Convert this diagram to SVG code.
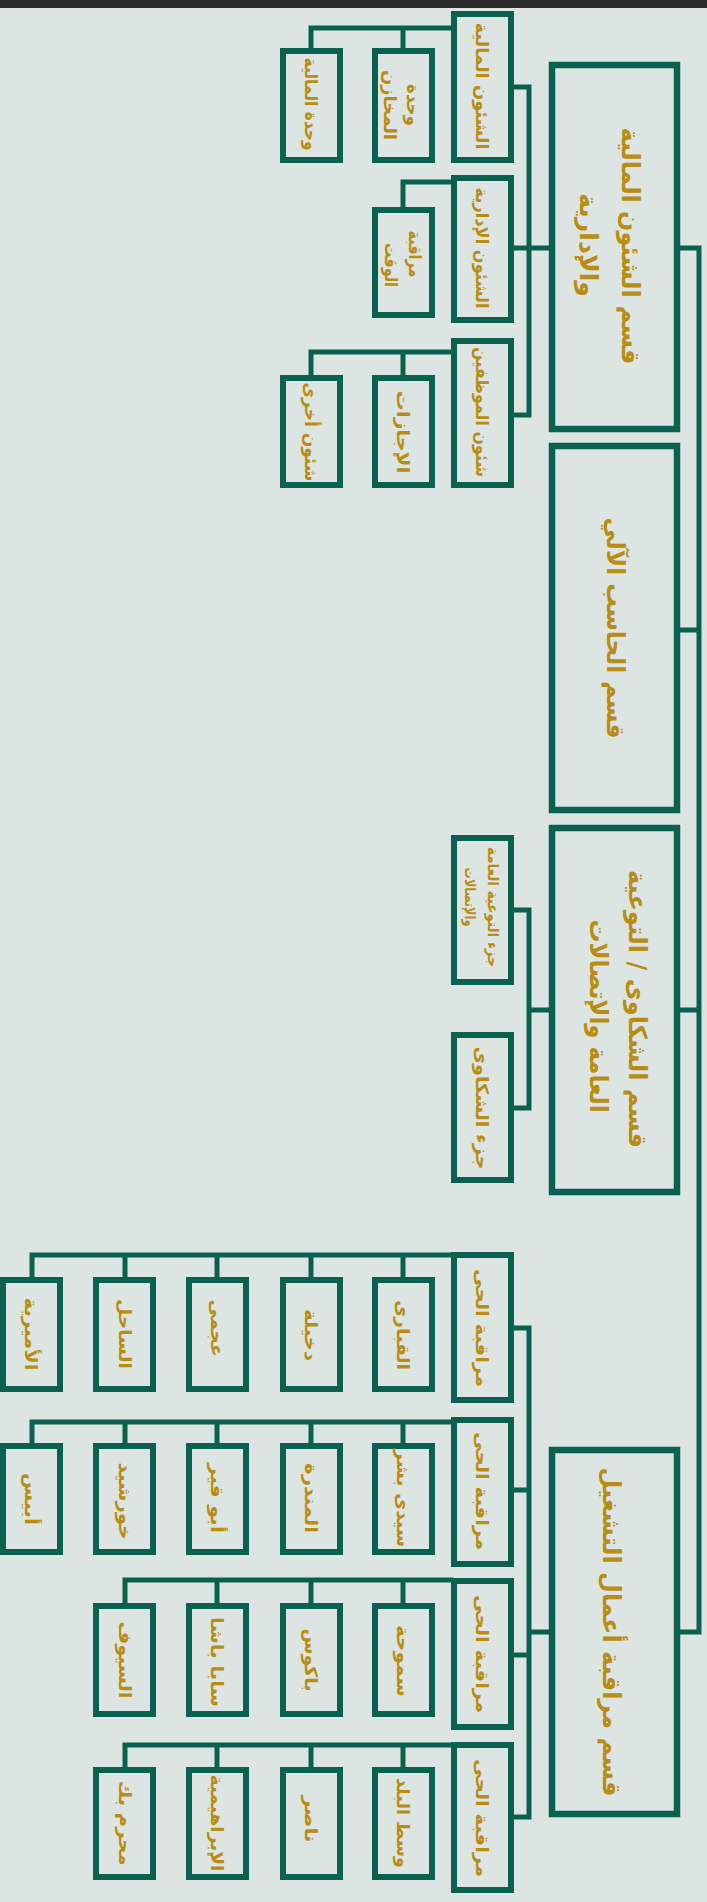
<svg xmlns="http://www.w3.org/2000/svg" width="707" height="1902" viewBox="0 0 707 1902">
<style>
.bg{fill:#dde5e2}
.big{fill:none;stroke:#0b6150;stroke-width:6.5}
.box{fill:none;stroke:#0b6150;stroke-width:6}
.ln{fill:none;stroke:#0b6150;stroke-width:5;stroke-linecap:square}
text{font-family:"DejaVu Sans",sans-serif;font-weight:bold;fill:#b98c14;text-anchor:middle;dominant-baseline:central}
.t1{font-size:25px}
.t2{font-size:17.5px}
.t3{font-size:14.5px}
</style>
<rect class="bg" x="0" y="0" width="707" height="1902"/>
<rect x="0" y="0" width="707" height="8" fill="#2b2b2b"/>

<g id="connectors">
  <path class="ln" d="M680 248 H699 V1632 H680 M680 630 H699 M680 1010 H699"/>
  <path class="ln" d="M549 248 H529 M514 87 H529 V415 H514 M514 248 H529"/>
  <path class="ln" d="M451 28 H311 V48 M403 28 V48"/>
  <path class="ln" d="M451 182 H403 V207"/>
  <path class="ln" d="M451 352 H311 V375 M403 352 V375"/>
  <path class="ln" d="M549 1010 H529 M514 910 H529 V1108 H514"/>
  <path class="ln" d="M549 1632 H529 M514 1328 H529 V1817 H514 M514 1490 H529 M514 1655 H529"/>
  <path class="ln" d="M451 1255 H32 V1277 M403 1255 V1277 M311 1255 V1277 M217 1255 V1277 M125 1255 V1277"/>
  <path class="ln" d="M451 1422 H32 V1443 M403 1422 V1443 M311 1422 V1443 M217 1422 V1443 M125 1422 V1443"/>
  <path class="ln" d="M451 1580 H125 V1603 M403 1580 V1603 M311 1580 V1603 M217 1580 V1603"/>
  <path class="ln" d="M451 1745 H125 V1767 M403 1745 V1767 M311 1745 V1767 M217 1745 V1767"/>
</g>

<g id="sec-finance-admin">
  <rect class="big" x="552" y="65" width="125" height="364"/>
  <text class="t1" transform="translate(630,246) rotate(90)" textLength="237" lengthAdjust="spacingAndGlyphs">قسم الشئون المالية</text>
  <text class="t1" transform="translate(588,245) rotate(90)" textLength="104" lengthAdjust="spacingAndGlyphs">والإدارية</text>
</g>
<g id="n-financial-affairs">
  <rect class="box" x="454" y="14" width="57" height="146"/>
  <text class="t2" transform="translate(482,86) rotate(90)" textLength="127" lengthAdjust="spacingAndGlyphs">الشئون المالية</text>
</g>
<g id="n-stores-unit">
  <rect class="box" x="375" y="51" width="57" height="109"/>
  <text class="t2" transform="translate(413,105) rotate(90)" textLength="42" lengthAdjust="spacingAndGlyphs">وحدة</text>
  <text class="t2" transform="translate(390,105) rotate(90)" textLength="70" lengthAdjust="spacingAndGlyphs">المخازن</text>
</g>
<g id="n-finance-unit">
  <rect class="box" x="283" y="51" width="57" height="109"/>
  <text class="t2" transform="translate(311,104) rotate(90)" textLength="93" lengthAdjust="spacingAndGlyphs">وحدة المالية</text>
</g>
<g id="n-admin-affairs">
  <rect class="box" x="454" y="178" width="57" height="142"/>
  <text class="t2" transform="translate(482,248) rotate(90)" textLength="121" lengthAdjust="spacingAndGlyphs">الشئون الإدارية</text>
</g>
<g id="n-time-control">
  <rect class="box" x="375" y="210" width="57" height="105"/>
  <text class="t2" transform="translate(415,254) rotate(90)" textLength="47" lengthAdjust="spacingAndGlyphs">مراقبة</text>
  <text class="t2" transform="translate(391,265) rotate(90)" textLength="44" lengthAdjust="spacingAndGlyphs">الوقت</text>
</g>
<g id="n-staff-affairs">
  <rect class="box" x="454" y="341" width="57" height="144"/>
  <text class="t2" transform="translate(482,412) rotate(90)" textLength="130" lengthAdjust="spacingAndGlyphs">شئون الموظفين</text>
</g>
<g id="n-leaves">
  <rect class="box" x="375" y="378" width="57" height="107"/>
  <text class="t2" transform="translate(403,432) rotate(90)" textLength="83" lengthAdjust="spacingAndGlyphs">الإجازات</text>
</g>
<g id="n-other-affairs">
  <rect class="box" x="283" y="378" width="57" height="107"/>
  <text class="t2" transform="translate(311,432) rotate(90)" textLength="99" lengthAdjust="spacingAndGlyphs">شئون أخرى</text>
</g>

<g id="sec-computer">
  <rect class="big" x="552" y="446" width="125" height="364"/>
  <text class="t1" transform="translate(615,628) rotate(90)" textLength="221" lengthAdjust="spacingAndGlyphs">قسم الحاسب الآلي</text>
</g>

<g id="sec-complaints">
  <rect class="big" x="552" y="828" width="125" height="364"/>
  <text class="t1" transform="translate(637,1009) rotate(90)" textLength="278" lengthAdjust="spacingAndGlyphs">قسم الشكاوى / التوعية</text>
  <text class="t1" transform="translate(598,1016) rotate(90)" textLength="193" lengthAdjust="spacingAndGlyphs">العامة والإتصالات</text>
</g>
<g id="n-awareness">
  <rect class="box" x="454" y="838" width="57" height="144"/>
  <text class="t3" transform="translate(493,907) rotate(90)" textLength="120" lengthAdjust="spacingAndGlyphs">جزء التوعية العامة</text>
  <text class="t3" transform="translate(470,897) rotate(90)" textLength="59" lengthAdjust="spacingAndGlyphs">والإتصالات</text>
</g>
<g id="n-complaints">
  <rect class="box" x="454" y="1035" width="57" height="145"/>
  <text class="t2" transform="translate(482,1108) rotate(90)" textLength="123" lengthAdjust="spacingAndGlyphs">جزء الشكاوى</text>
</g>

<g id="sec-operations">
  <rect class="big" x="552" y="1450" width="125" height="364"/>
  <text class="t1" transform="translate(611,1632) rotate(90)" textLength="329" lengthAdjust="spacingAndGlyphs">قسم مراقبة أعمال التشغيل</text>
</g>
<g id="n-district-1">
  <rect class="box" x="454" y="1255" width="57" height="145"/>
  <text class="t2" transform="translate(482,1328) rotate(90)" textLength="118" lengthAdjust="spacingAndGlyphs">مراقبة الحى</text>
</g>
<g id="n-qabbari">
  <rect class="box" x="375" y="1280" width="57" height="109"/>
  <text class="t2" transform="translate(403,1335) rotate(90)" textLength="70" lengthAdjust="spacingAndGlyphs">القبارى</text>
</g>
<g id="n-dekheila">
  <rect class="box" x="283" y="1280" width="57" height="109"/>
  <text class="t2" transform="translate(311,1335) rotate(90)" textLength="52" lengthAdjust="spacingAndGlyphs">دخيلة</text>
</g>
<g id="n-agami">
  <rect class="box" x="189" y="1280" width="57" height="109"/>
  <text class="t2" transform="translate(217,1328) rotate(90)" textLength="57" lengthAdjust="spacingAndGlyphs">عجمى</text>
</g>
<g id="n-sahel">
  <rect class="box" x="96" y="1280" width="57" height="109"/>
  <text class="t2" transform="translate(125,1334) rotate(90)" textLength="70" lengthAdjust="spacingAndGlyphs">الساحل</text>
</g>
<g id="n-amreya">
  <rect class="box" x="3" y="1280" width="57" height="109"/>
  <text class="t2" transform="translate(31,1334) rotate(90)" textLength="73" lengthAdjust="spacingAndGlyphs">الأميرية</text>
</g>

<g id="n-district-2">
  <rect class="box" x="454" y="1420" width="57" height="144"/>
  <text class="t2" transform="translate(482,1491) rotate(90)" textLength="118" lengthAdjust="spacingAndGlyphs">مراقبة الحى</text>
</g>
<g id="n-sidi-bishr">
  <rect class="box" x="375" y="1446" width="57" height="106"/>
  <text class="t2" transform="translate(403,1498) rotate(90)" textLength="98" lengthAdjust="spacingAndGlyphs">سيدى بشر</text>
</g>
<g id="n-mandara">
  <rect class="box" x="283" y="1446" width="57" height="106"/>
  <text class="t2" transform="translate(311,1498) rotate(90)" textLength="70" lengthAdjust="spacingAndGlyphs">المندرة</text>
</g>
<g id="n-abu-qir">
  <rect class="box" x="189" y="1446" width="57" height="106"/>
  <text class="t2" transform="translate(217,1498) rotate(90)" textLength="70" lengthAdjust="spacingAndGlyphs">أبو قير</text>
</g>
<g id="n-khorshid">
  <rect class="box" x="96" y="1446" width="57" height="106"/>
  <text class="t2" transform="translate(125,1501) rotate(90)" textLength="77" lengthAdjust="spacingAndGlyphs">خورشيد</text>
</g>
<g id="n-abis">
  <rect class="box" x="3" y="1446" width="57" height="106"/>
  <text class="t2" transform="translate(31,1499) rotate(90)" textLength="52" lengthAdjust="spacingAndGlyphs">أبيس</text>
</g>

<g id="n-district-3">
  <rect class="box" x="454" y="1581" width="57" height="146"/>
  <text class="t2" transform="translate(482,1654) rotate(90)" textLength="118" lengthAdjust="spacingAndGlyphs">مراقبة الحى</text>
</g>
<g id="n-smouha">
  <rect class="box" x="375" y="1606" width="57" height="108"/>
  <text class="t2" transform="translate(403,1661) rotate(90)" textLength="72" lengthAdjust="spacingAndGlyphs">سموحة</text>
</g>
<g id="n-bacos">
  <rect class="box" x="283" y="1606" width="57" height="108"/>
  <text class="t2" transform="translate(311,1660) rotate(90)" textLength="63" lengthAdjust="spacingAndGlyphs">باكوس</text>
</g>
<g id="n-saba-pasha">
  <rect class="box" x="189" y="1606" width="57" height="108"/>
  <text class="t2" transform="translate(217,1662) rotate(90)" textLength="90" lengthAdjust="spacingAndGlyphs">سابا باشا</text>
</g>
<g id="n-seyouf">
  <rect class="box" x="96" y="1606" width="57" height="108"/>
  <text class="t2" transform="translate(125,1660) rotate(90)" textLength="77" lengthAdjust="spacingAndGlyphs">السيوف</text>
</g>

<g id="n-district-4">
  <rect class="box" x="454" y="1745" width="57" height="145"/>
  <text class="t2" transform="translate(482,1818) rotate(90)" textLength="118" lengthAdjust="spacingAndGlyphs">مراقبة الحى</text>
</g>
<g id="n-wasat">
  <rect class="box" x="375" y="1770" width="57" height="107"/>
  <text class="t2" transform="translate(403,1823) rotate(90)" textLength="90" lengthAdjust="spacingAndGlyphs">وسط البلد</text>
</g>
<g id="n-nasser">
  <rect class="box" x="283" y="1770" width="57" height="107"/>
  <text class="t2" transform="translate(311,1819) rotate(90)" textLength="47" lengthAdjust="spacingAndGlyphs">ناصر</text>
</g>
<g id="n-ibrahimia">
  <rect class="box" x="189" y="1770" width="57" height="107"/>
  <text class="t2" transform="translate(217,1823) rotate(90)" textLength="97" lengthAdjust="spacingAndGlyphs">الإبراهيمية</text>
</g>
<g id="n-moharram-bek">
  <rect class="box" x="96" y="1770" width="57" height="107"/>
  <text class="t2" transform="translate(125,1823) rotate(90)" textLength="85" lengthAdjust="spacingAndGlyphs">محرم بك</text>
</g>
</svg>
